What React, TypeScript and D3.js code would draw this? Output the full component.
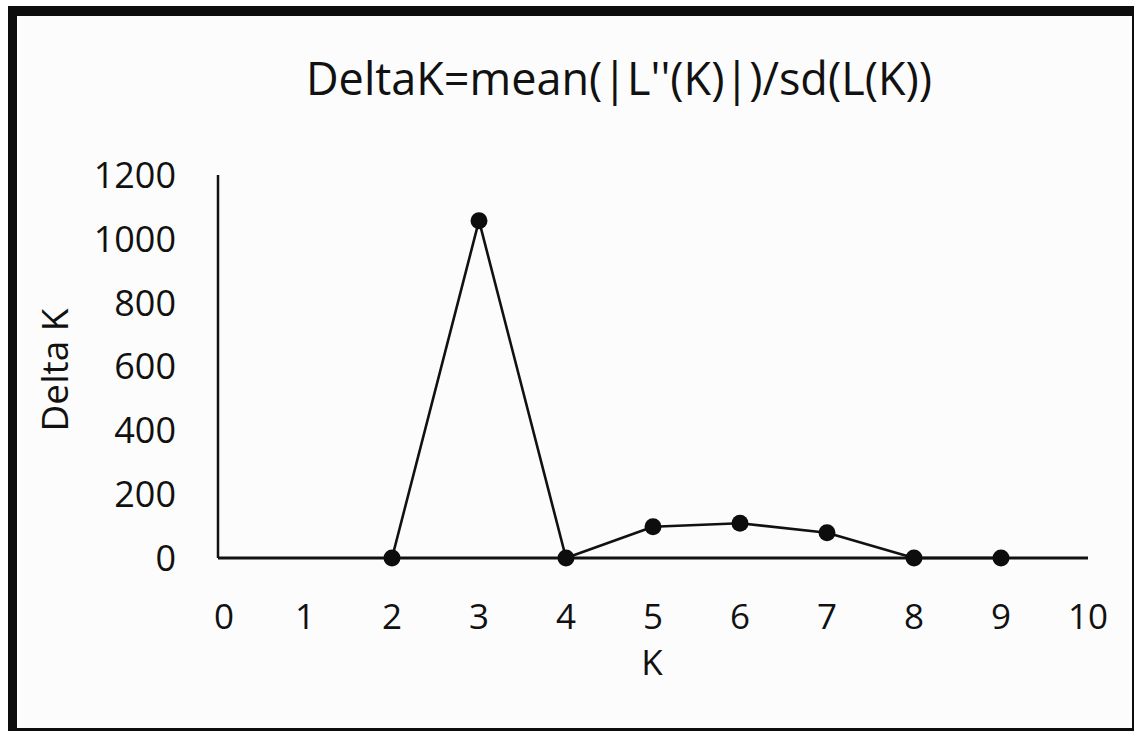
import React from "react";
import * as d3 from "d3";

const kValues = [2, 3, 4, 5, 6, 7, 8, 9];
const deltaK = [0, 1057, 0, 98, 109, 79, 0, 0];
const xTicks = [0, 1, 2, 3, 4, 5, 6, 7, 8, 9, 10];
const yTicks = [0, 200, 400, 600, 800, 1000, 1200];
const title = "DeltaK=mean(|L''(K)|)/sd(L(K))";
const xLabel = "K";
const yLabel = "Delta K";

const W = 1134;
const H = 731;
const FONT = "'Open Sans', 'Noto Sans', sans-serif";

export default function App() {
  const x = d3.scaleLinear().domain([0, 10]).range([218, 1088]);
  const y = d3.scaleLinear().domain([0, 1200]).range([558, 175]);
  const pts = kValues.map((k, i) => [k, deltaK[i]] as [number, number]);
  const line = d3
    .line<[number, number]>()
    .x((d) => x(d[0]))
    .y((d) => y(d[1]));

  return (
    <svg
      width={W}
      height={H}
      style={{ position: "absolute", left: 0, top: 0, display: "block" }}
      fontFamily={FONT}
    >
      <rect x={0} y={0} width={W} height={H} fill="#ffffff" />
      <rect x={8} y={6} width={W - 8} height={H - 6} fill="#0d0d0d" />
      <rect x={17} y={16} width={W - 17 - 2} height={728 - 16} fill="#fcfcfc" />

      <text x={619} y={95} textAnchor="middle" fontSize={45} fill="#111">
        {title}
      </text>

      {/* y axis */}
      <line x1={x(0)} x2={x(0)} y1={y(1200)} y2={y(0)} stroke="#111" strokeWidth={2.5} />
      {/* x axis */}
      <line x1={x(0)} x2={x(10)} y1={y(0)} y2={y(0)} stroke="#111" strokeWidth={3} />

      {yTicks.map((t) => (
        <text
          key={"y" + t}
          x={176}
          y={y(t)}
          dy="0.36em"
          textAnchor="end"
          fontSize={36}
          fill="#111"
        >
          {t}
        </text>
      ))}
      {xTicks.map((t) => (
        <text
          key={"x" + t}
          x={x(t) + (t === 0 ? 6 : 0)}
          y={616}
          dy="0.36em"
          textAnchor="middle"
          fontSize={35}
          fill="#111"
        >
          {t}
        </text>
      ))}

      <text x={652} y={662} dy="0.36em" textAnchor="middle" fontSize={35} fill="#111">
        {xLabel}
      </text>
      <text
        transform={`translate(55,370) rotate(-90)`}
        dy="0.36em"
        textAnchor="middle"
        fontSize={37}
        fill="#111"
      >
        {yLabel}
      </text>

      <path d={line(pts) || ""} fill="none" stroke="#111" strokeWidth={2.6} strokeLinejoin="round" />
      {pts.map((d, i) => (
        <circle key={i} cx={x(d[0])} cy={y(d[1])} r={8.5} fill="#0d0d0d" />
      ))}
    </svg>
  );
}
